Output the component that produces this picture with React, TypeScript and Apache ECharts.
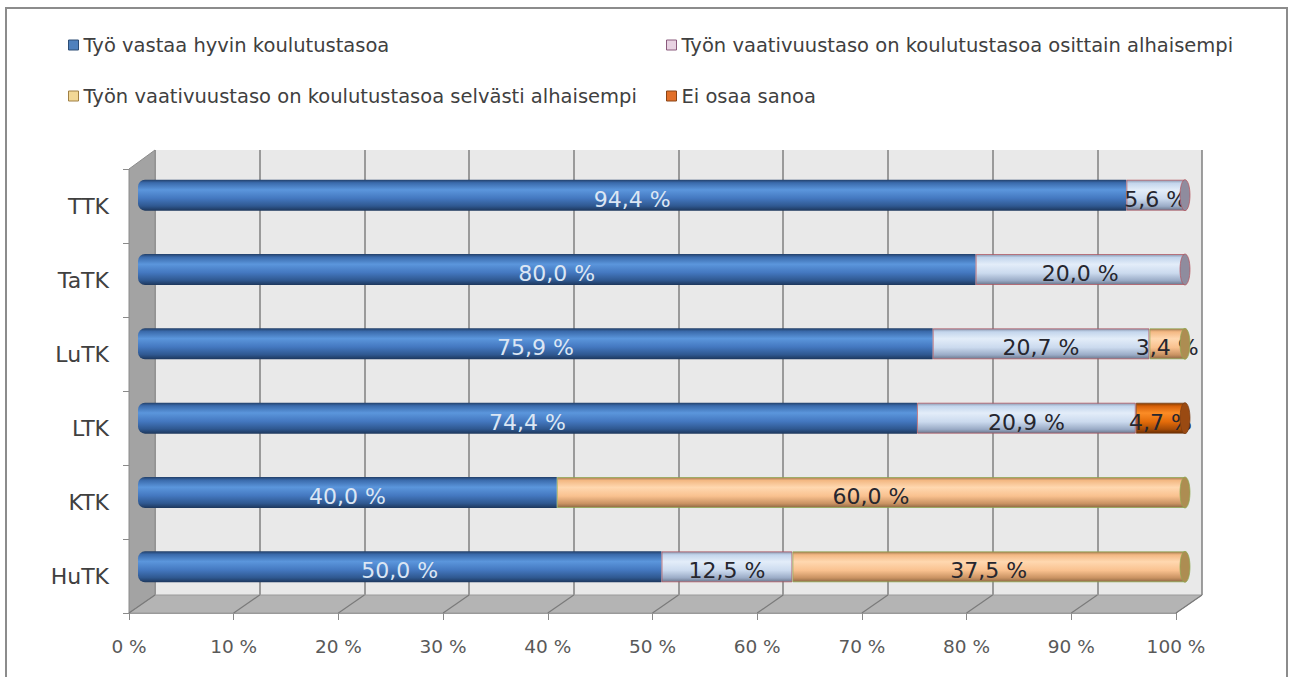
import React, { useEffect, useRef } from "react";
import * as echarts from "echarts";

const categories = ["HuTK", "KTK", "LTK", "LuTK", "TaTK", "TTK"];
const seriesNames = [
  "Työ vastaa hyvin koulutustasoa",
  "Työn vaativuustaso on koulutustasoa osittain alhaisempi",
  "Työn vaativuustaso on koulutustasoa selvästi alhaisempi",
  "Ei osaa sanoa",
];
const hyvin = [50.0, 40.0, 74.4, 75.9, 80.0, 94.4];
const osittain = [12.5, 0, 20.9, 20.7, 20.0, 5.6];
const selvasti = [37.5, 60.0, 0, 3.4, 0, 0];
const eiOsaa = [0, 0, 4.7, 0, 0, 0];
const xTicks = [0, 10, 20, 30, 40, 50, 60, 70, 80, 90, 100];

const FONT = "'DejaVu Sans', 'Open Sans', sans-serif";

const grad = (stops: [number, string][]) =>
  new echarts.graphic.LinearGradient(
    0,
    0,
    0,
    1,
    stops.map(([offset, color]) => ({ offset, color }))
  );

const fills = [
  grad([
    [0, "#223f68"],
    [0.1, "#3a6aab"],
    [0.33, "#5b96dc"],
    [0.6, "#4478c0"],
    [0.85, "#2f5890"],
    [1, "#1d375c"],
  ]),
  grad([
    [0, "#8a98b0"],
    [0.1, "#c3d5ec"],
    [0.33, "#e3edf9"],
    [0.62, "#cbdaee"],
    [0.87, "#9aabc6"],
    [1, "#6c788e"],
  ]),
  grad([
    [0, "#a87c52"],
    [0.1, "#f3b883"],
    [0.33, "#ffd8b0"],
    [0.62, "#f9c18f"],
    [0.87, "#c99262"],
    [1, "#8f6944"],
  ]),
  grad([
    [0, "#823c00"],
    [0.1, "#d65f08"],
    [0.33, "#fb8c26"],
    [0.62, "#e46c0a"],
    [0.87, "#a64b06"],
    [1, "#6c2e00"],
  ]),
];
const borders = [
  "rgba(40,70,110,0.6)",
  "rgba(180,80,90,0.7)",
  "rgba(140,170,80,0.7)",
  "rgba(120,60,20,0.7)",
];
const capColors = ["#2f5a92", "#8f8c9e", "#ad8d52", "#9a4a12"];
const legendStyles = [
  { color: "#4f81bd", borderColor: "#2c4d75" },
  { color: "#e8d2e2", borderColor: "#8a5a7c" },
  { color: "#f2d896", borderColor: "#a08044" },
  { color: "#e2702a", borderColor: "#8a4416" },
];

const fmt = (v: number) => v.toFixed(1).replace(".", ",") + " %";

export default function App() {
  const ref = useRef<HTMLDivElement>(null);
  useEffect(() => {
    if (!ref.current) return;
    const chart = echarts.init(ref.current, undefined, { renderer: "svg" });
    const all = [hyvin, osittain, selvasti, eiOsaa];

    const barSeries = all.map((arr, si) => ({
      type: "bar",
      name: seriesNames[si],
      stack: "total",
      xAxisIndex: 2,
      yAxisIndex: 2,
      barWidth: 31,
      z: 3,
      data: arr.map((v) => (v === 0 ? "-" : v)),
      itemStyle: {
        color: fills[si],
        borderColor: borders[si],
        borderWidth: si === 0 ? 0 : 1,
        borderRadius: si === 0 ? [7, 0, 0, 7] : 0,
      },
      label: {
        show: true,
        position: "inside",
        offset: [0, 4],
        fontFamily: FONT,
        fontSize: 22,
        color: si === 0 ? "#dbe6f4" : "#26262e",
        formatter: (p: any) => (p.value ? fmt(Number(p.value)) : ""),
      },
    }));

    const capData = categories.map((c, i) => {
      let last = 0;
      let sum = 0;
      all.forEach((arr, si) => {
        if (arr[i] > 0) last = si;
        sum += arr[i];
      });
      return [sum, i, last];
    });

    const capSeries = {
      type: "custom",
      name: "caps",
      xAxisIndex: 2,
      yAxisIndex: 2,
      z: 4,
      silent: true,
      data: capData,
      renderItem: (params: any, api: any) => {
        const p = api.coord([api.value(0), api.value(1)]);
        const ci = api.value(2);
        return {
          type: "ellipse",
          shape: { cx: p[0], cy: p[1], rx: 5, ry: 15.5 },
          style: { fill: capColors[ci], stroke: borders[ci], lineWidth: 1 },
        };
      },
    };

    // decorative 3D walls
    const frontL = 129,
      frontR = 1176,
      frontY = 613,
      backL = 155,
      backR = 1202,
      backY = 595,
      topFront = 169,
      topBack = 150;
    const floorLines = xTicks.map((t) => {
      const fx = frontL + ((frontR - frontL) * t) / 100;
      const bx = backL + ((backR - backL) * t) / 100;
      return {
        type: "line",
        z: 2,
        shape: { x1: fx, y1: frontY, x2: bx, y2: backY },
        style: { stroke: "#7a7a7a", lineWidth: 1.2 },
      };
    });

    const legendBase = {
      top: 33,
      orient: "vertical",
      padding: 0,
      itemWidth: 10,
      itemHeight: 10,
      itemGap: 27,
      selectedMode: false,
      textStyle: { fontFamily: FONT, fontSize: 19.5, color: "#404040", lineHeight: 24 },
    };

    chart.setOption({
      animation: false,
      backgroundColor: "#ffffff",
      textStyle: { fontFamily: FONT },
      legend: [
        {
          ...legendBase,
          left: 68,
          data: [0, 2].map((i) => ({
            name: seriesNames[i],
            icon: "rect",
            itemStyle: { ...legendStyles[i], borderWidth: 1 },
          })),
        },
        {
          ...legendBase,
          left: 666,
          data: [1, 3].map((i) => ({
            name: seriesNames[i],
            icon: "rect",
            itemStyle: { ...legendStyles[i], borderWidth: 1 },
          })),
        },
      ],
      grid: [
        {
          left: backL,
          right: 1289 - backR,
          top: topBack,
          bottom: 677 - backY,
          show: true,
          backgroundColor: "#e9e9e9",
          borderWidth: 0,
        },
        {
          left: frontL,
          right: 1289 - frontR,
          top: topFront,
          bottom: 677 - frontY,
        },
        {
          left: 138,
          right: 1289 - 1185,
          top: 158,
          bottom: 677 - 604,
        },
      ],
      xAxis: [
        {
          gridIndex: 0,
          type: "value",
          min: 0,
          max: 100,
          interval: 10,
          axisLabel: { show: false },
          axisLine: { show: false },
          axisTick: { show: false },
          splitLine: { show: true, lineStyle: { color: "#7f7f7f", width: 1.5 } },
        },
        {
          gridIndex: 1,
          type: "value",
          min: 0,
          max: 100,
          interval: 10,
          axisLabel: {
            show: true,
            margin: 24,
            fontFamily: FONT,
            fontSize: 18.5,
            color: "#595959",
            formatter: (v: number) => v + " %",
          },
          axisLine: { show: true, lineStyle: { color: "#9a9a9a", width: 1 } },
          axisTick: { show: true, length: 7, lineStyle: { color: "#8a8a8a" } },
          splitLine: { show: false },
        },
        {
          gridIndex: 2,
          type: "value",
          min: 0,
          max: 100,
          show: false,
        },
      ],
      yAxis: [
        {
          gridIndex: 0,
          type: "category",
          data: categories,
          show: false,
        },
        {
          gridIndex: 1,
          type: "category",
          data: categories,
          axisLabel: {
            margin: 20,
            fontFamily: FONT,
            fontSize: 22,
            color: "#404040",
          },
          axisLine: { show: true, lineStyle: { color: "#8c8c8c" } },
          axisTick: { show: true, length: 6, lineStyle: { color: "#8a8a8a" } },
          splitLine: { show: false },
        },
        {
          gridIndex: 2,
          type: "category",
          data: categories,
          show: false,
        },
      ],
      graphic: [
        {
          type: "rect",
          z: 10,
          silent: true,
          shape: { x: 6, y: 8, width: 1281, height: 700 },
          style: { fill: "none", stroke: "#8c8c8c", lineWidth: 2 },
        },
        {
          type: "polygon",
          z: 1,
          silent: true,
          shape: {
            points: [
              [frontL, topFront],
              [backL, topBack],
              [backL, backY],
              [frontL, frontY],
            ],
          },
          style: { fill: "#a3a3a3", stroke: "#8c8c8c", lineWidth: 1 },
        },
        {
          type: "polygon",
          z: 1,
          silent: true,
          shape: {
            points: [
              [frontL, frontY],
              [backL, backY],
              [backR, backY],
              [frontR, frontY],
            ],
          },
          style: { fill: "#b4b4b4", stroke: "#9a9a9a", lineWidth: 1 },
        },
        ...floorLines,
      ],
      series: [...barSeries, capSeries],
    });
    return () => chart.dispose();
  }, []);
  return (
    <div
      ref={ref}
      style={{ position: "absolute", left: 0, top: 0, width: 1289, height: 677 }}
    />
  );
}
